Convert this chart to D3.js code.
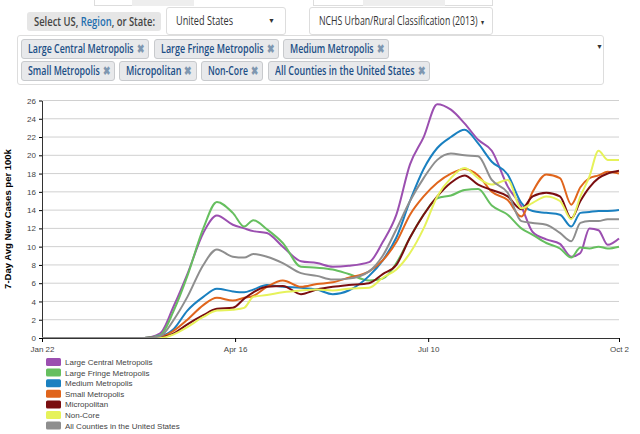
<!DOCTYPE html><html><head><meta charset="utf-8">
<script src="https://cdn.jsdelivr.net/npm/d3@7"></script>
<style>
body{margin:0;width:640px;height:434px;overflow:hidden;background:#fff;font-family:"Open Sans",sans-serif;position:relative}
.abs{position:absolute;box-sizing:border-box;white-space:nowrap;overflow:hidden}
.tag{position:absolute;background:#e8e9eb;border:1px solid #c8cacd;border-radius:3px;height:20px;line-height:18px;font-size:12px;font-weight:600;color:#1c4f86;box-sizing:border-box;white-space:nowrap;overflow:hidden}
.fit{display:inline-block;transform-origin:0 50%}
.x{color:#7f97b0;font-weight:700;margin-left:4px}
svg{position:absolute;left:0;top:0}
</style></head><body>
<div class="abs" style="left:94px;top:0;width:100px;height:6px;border:1px solid #ddd;border-top:none;background:#fff"></div>
<div class="abs" style="left:132px;top:0;width:62px;height:6px;background:#eee"></div>
<div class="abs" style="left:313px;top:0;width:180px;height:6px;border:1px solid #ddd;border-top:none"></div>
<div class="abs" style="left:363px;top:0;width:82px;height:6px;background:#eee"></div>
<div class="abs" style="left:27px;top:12px;width:134px;height:19px;background:#e6e6e6;border-radius:3px;font-size:12px;font-weight:600;color:#444;line-height:19px;padding-left:7px"><span class="fit" data-w="121">Select US, <span style="color:#1f6fae">Region</span>, or State:</span></div>
<div class="abs" style="left:166px;top:7px;width:120px;height:28px;border:1px solid #ddd;border-radius:3px;font-size:12px;color:#333;line-height:26px;padding-left:9px"><span class="fit" data-w="57">United States</span><span style="position:absolute;right:10px;font-size:7px">▼</span></div>
<div class="abs" style="left:309px;top:7px;width:184px;height:28px;border:1px solid #ddd;border-radius:3px;font-size:12px;color:#333;line-height:26px;padding-left:9px"><span class="fit" data-w="166">NCHS Urban/Rural Classification (2013) <span style="font-size:7px">▼</span></span></div>
<div class="abs" style="left:17px;top:35px;width:587px;height:50px;border:1px solid #ddd;border-radius:3px"></div>
<div class="abs" style="left:596px;top:42px;font-size:7px;color:#333">▼</div>
<div id="tags"></div>
<svg id="c" width="640" height="434"></svg>
<script>
const tagList=[["Large Central Metropolis",21,39,128],["Large Fringe Metropolis",154,39,125],["Medium Metropolis",283,39,106],["Small Metropolis",21,61,94],["Micropolitan",119,61,78],["Non-Core",201,61,62],["All Counties in the United States",268,61,162]];
d3.select("#tags").selectAll("div").data(tagList).join("div").attr("class","tag")
 .style("left",d=>d[1]+"px").style("top",d=>d[2]+"px").style("width",d=>d[3]+"px").style("padding-left","6px")
 .html(d=>`<span class="fit" data-w="${d[3]-12}">${d[0]}<span class="x">✖</span></span>`);
document.querySelectorAll(".fit").forEach(e=>{const w=+e.dataset.w,r=e.getBoundingClientRect().width;if(r>0)e.style.transform=`scaleX(${w/r})`;});

const days=[0,45,52,58,64,71,77,84,89,93,99,106,114,121,128,135,144,150,156,162,168,174,180,186,192,198,205,211,216,222,228,233,237,241,245,249,254];
const seriesNames=["Large Central Metropolis","Large Fringe Metropolis","Medium Metropolis","Small Metropolis","Micropolitan","Non-Core","All Counties in the United States"];
const colors=["#9b4fb0","#66bf5f","#1a80c0","#e0651c","#7a0e10","#e6f25a","#8e8e8e"];
const largeCentral=[0,0,0.5,3.5,7,11.5,13.4,12.4,12.0,11.7,11.5,10,8.4,8.2,7.8,7.9,8.3,10.5,13.5,19,22,25.6,25,23.5,21.7,20.5,16.6,14.4,11.6,10.8,10.3,8.9,9.3,12,11.8,10.2,10.9];
const largeFringe=[0,0,0.3,3,6.8,12,14.9,13.7,12.2,12.9,11.9,10.4,7.8,7.7,7.5,7.0,6.3,6.5,8.2,11,13.5,15.3,15.6,16.2,16.3,14.5,13.5,12,11.3,10.4,9.8,8.8,9.9,9.8,10,9.8,10];
const medium=[0,0,0.2,1,3,4.5,5.4,5.1,5.0,5.3,5.8,5.6,5.5,5.3,4.8,5.2,6.8,8.5,11,15,18.5,20.8,22,22.8,21.3,19.3,17.9,14.8,13.9,13.7,13.5,12.2,13.7,13.8,13.9,13.9,14];
const small=[0,0,0.1,0.8,2,3.6,4.4,4.1,4.4,4.6,5.6,6.3,5.6,5.9,6.1,6.6,7.3,8.5,10.5,13.5,15.5,17,18,18.5,17.8,16,15.1,13.3,16,17.9,17.5,14.6,16.5,17.5,17.8,18.2,18];
const micro=[0,0,0.05,0.5,1.5,2.5,3.2,3.3,4.3,5.0,5.6,5.7,4.8,5.3,5.6,5.8,6.0,7.0,8.0,11,13.5,15.5,17.0,17.8,16.8,16.2,15.5,14.1,15.5,15.9,15.5,13.1,15.0,16.5,17.5,18,18.3];
const nonCore=[0,0,0,0.4,1.2,2.3,3.0,3.1,3.3,4.5,4.7,5.0,5.2,5.3,5.2,5.4,5.5,6.6,7.5,9.3,12,15.5,17.5,18.6,17.5,16.8,17.3,14.2,14.8,15.5,15,13,15.5,17.7,20.5,19.5,19.5];
const allUS=[0,0,0.2,2,4.5,8,9.7,8.9,8.8,9.2,8.9,8.2,7.1,6.8,6.4,6.5,7.3,9,11.9,15,17.5,19.5,20.2,20.0,19.9,17.3,15.9,12.8,12.6,12.4,11.5,10.6,12.6,12.8,12.8,13,13];
const series=[largeCentral,largeFringe,medium,small,micro,nonCore,allUS];
const tickDays=[0,85,170,254], tickLabels=["Jan 22","Apr 16","Jul 10","Oct 2"];
const yTicks=d3.range(0,27,2);

const svg=d3.select("#c");
const x=d3.scaleLinear().domain([0,254]).range([42,619]);
const y=d3.scaleLinear().domain([0,26]).range([338,100.5]);
svg.append("g").selectAll("line").data(yTicks.slice(1)).join("line")
 .attr("x1",42).attr("x2",619).attr("y1",d=>y(d)).attr("y2",d=>y(d)).attr("stroke","#d0d0d0").attr("stroke-width",1);
const ya=svg.append("g").attr("transform","translate(42,0)").call(d3.axisLeft(y).tickValues(yTicks).tickSize(3).tickSizeOuter(0));
ya.selectAll("text").attr("font-size",8).attr("fill","#444").attr("font-family","Liberation Sans,Arial");
ya.select(".domain").attr("stroke","#333");
const line=d3.line().x((d,i)=>x(days[i])).y(d=>y(d)).curve(d3.curveMonotoneX);
series.forEach((s,k)=>svg.append("path").datum(s).attr("d",line).attr("fill","none").attr("stroke",colors[k]).attr("stroke-width",2));
const xa=svg.append("g").attr("transform","translate(0,338)").call(d3.axisBottom(x).tickValues(tickDays).tickFormat((d,i)=>tickLabels[i]).tickSize(4).tickSizeOuter(0));
xa.selectAll("text").attr("font-size",8).attr("fill","#444").attr("font-family","Liberation Sans,Arial").attr("dy","0.9em");
xa.select(".domain").attr("stroke","#333");
svg.append("text").attr("transform","translate(11,219) rotate(-90)").attr("text-anchor","middle")
 .attr("font-size",9.5).attr("font-weight","bold").attr("font-family","Liberation Sans,Arial").text("7-Day Avg New Cases per 100k");
const lg=svg.append("g").selectAll("g").data(seriesNames).join("g").attr("transform",(d,i)=>`translate(46,${358+i*10.6})`);
lg.append("rect").attr("width",15).attr("height",8).attr("rx",1.5).attr("fill",(d,i)=>colors[i]);
lg.append("text").attr("x",19).attr("y",7).attr("font-size",8).attr("fill","#444").attr("font-family","Liberation Sans,Arial").text(d=>d);
</script></body></html>
